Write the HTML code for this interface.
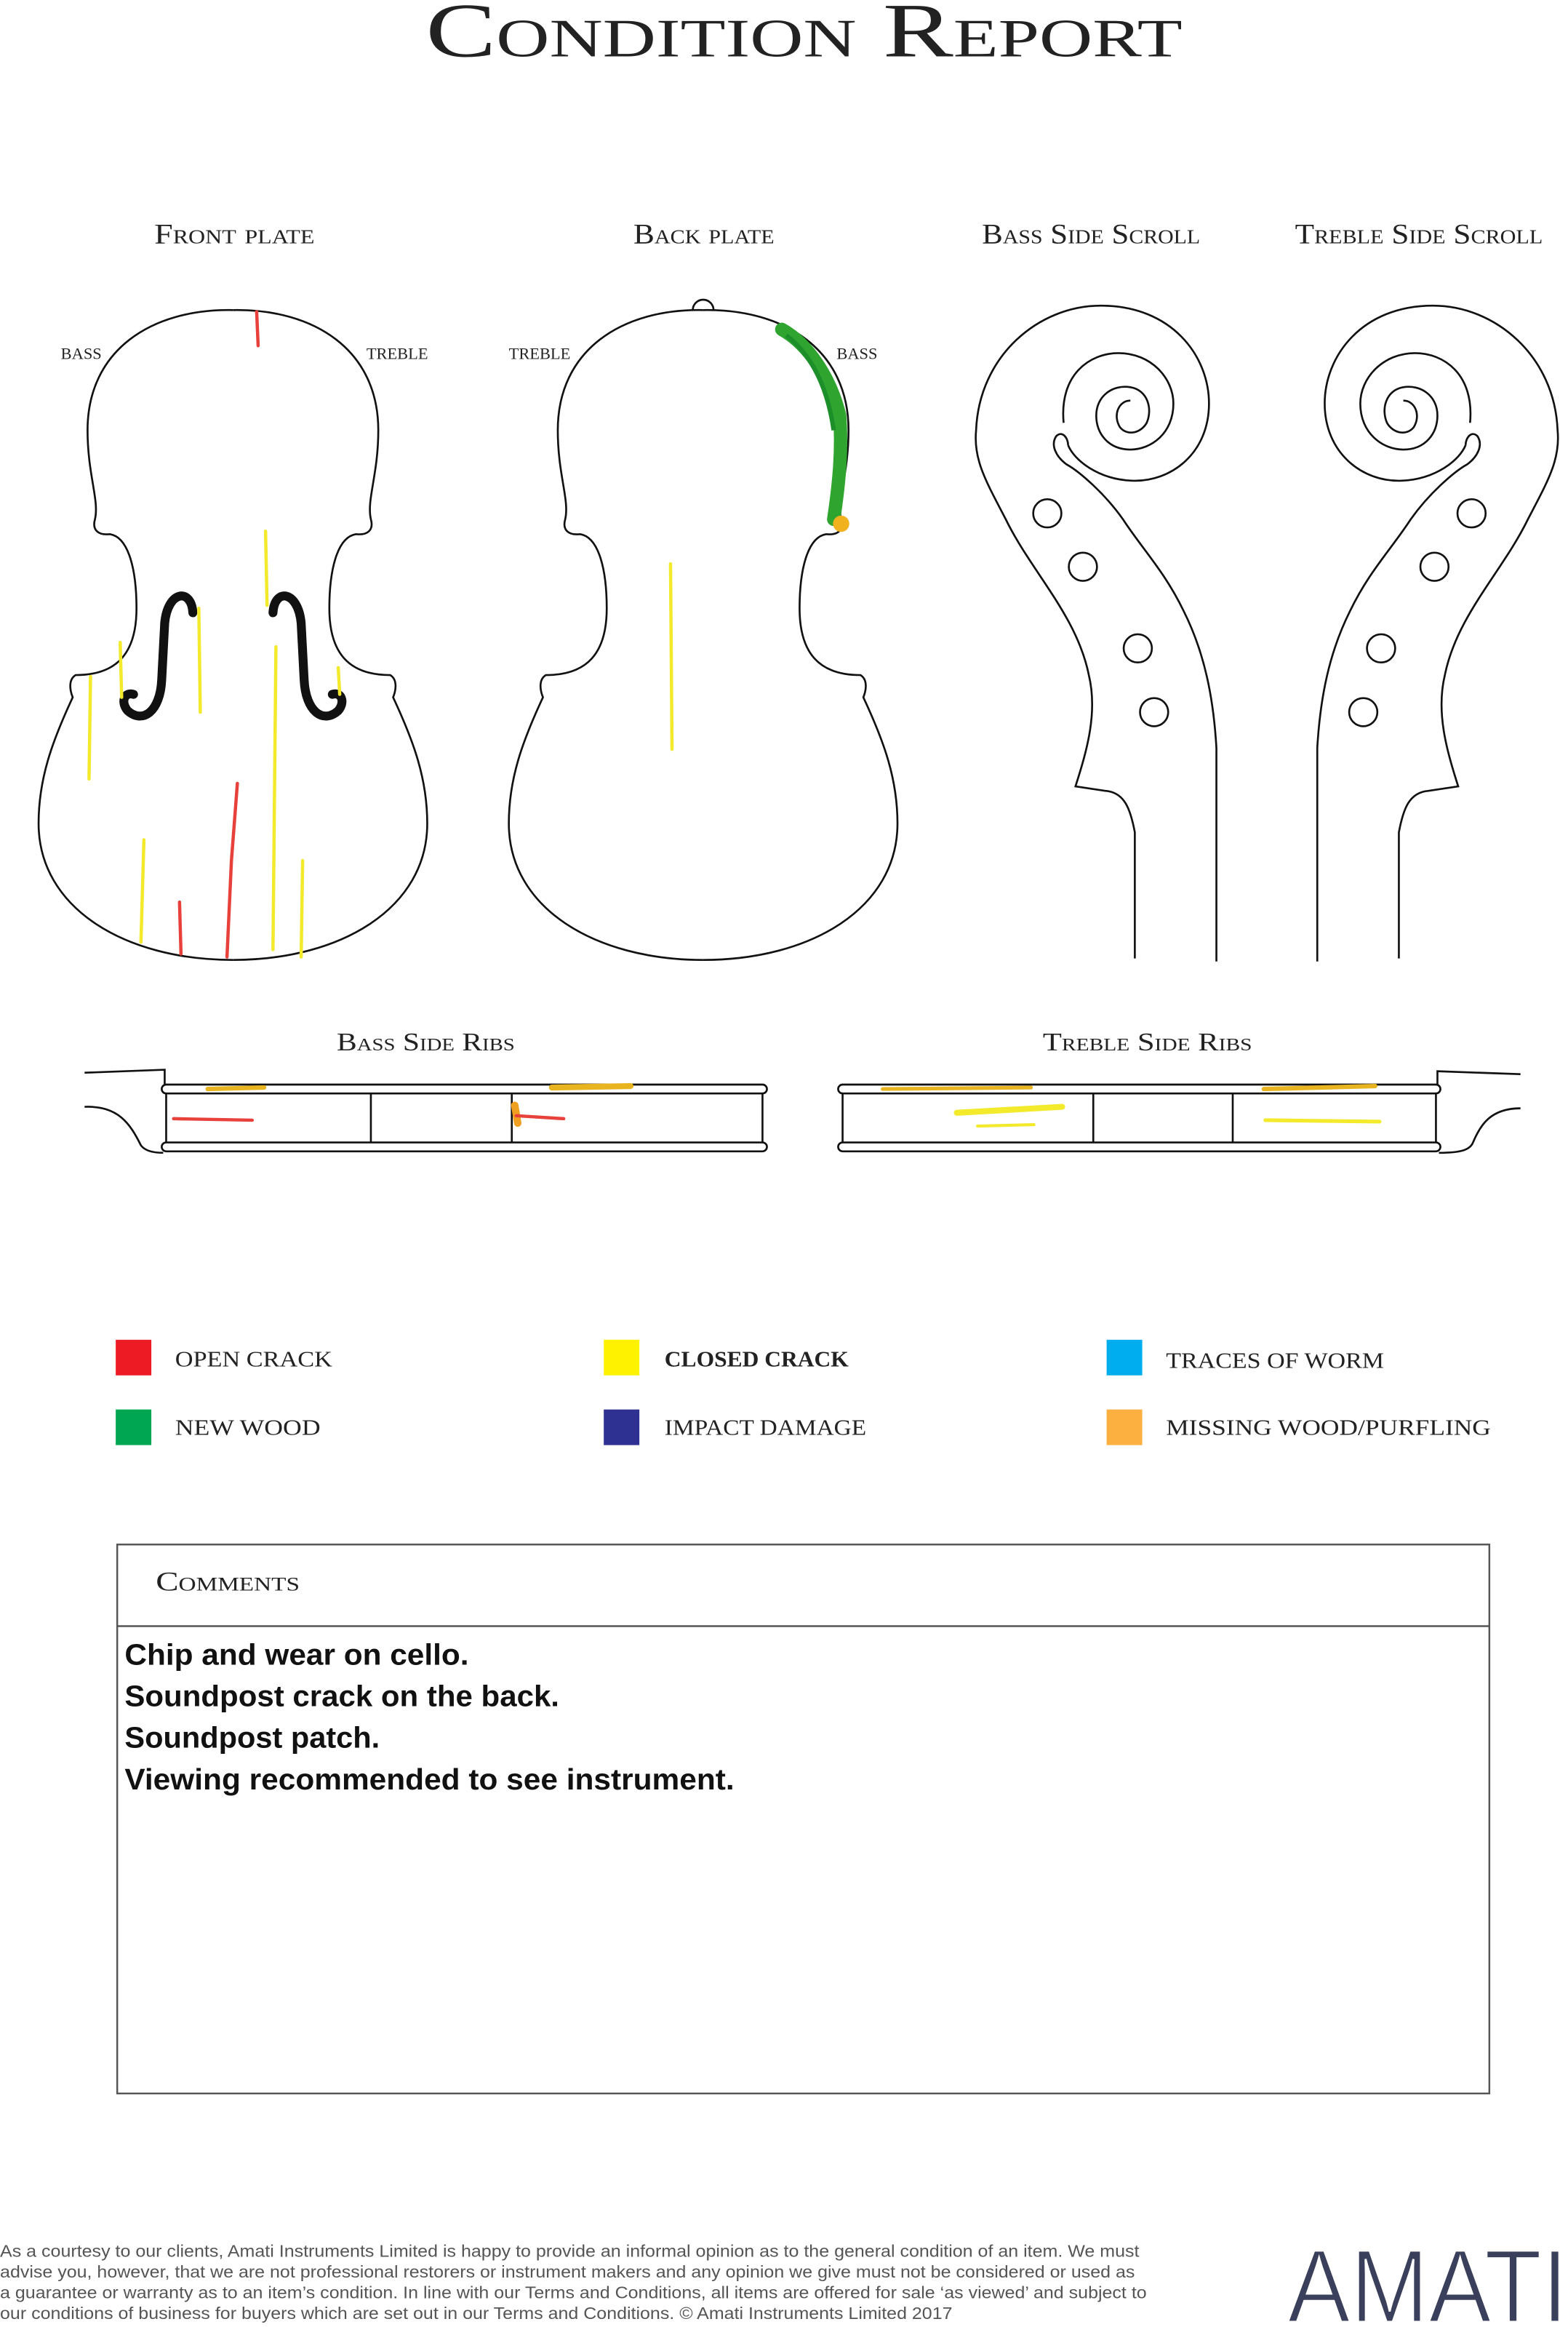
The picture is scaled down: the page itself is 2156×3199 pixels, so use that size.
<!DOCTYPE html>
<html><head><meta charset="utf-8"><style>
html,body{margin:0;padding:0;background:#fff}
svg{display:block}
.sc{font-family:"Liberation Serif",serif;font-variant:small-caps;fill:#222}
.ln{fill:none;stroke:#111;stroke-width:1.3}
</style></head><body>
<svg width="2156" height="3199" viewBox="0 0 1057 1568.4" xmlns="http://www.w3.org/2000/svg">
<text class="sc" x="287" y="38" font-size="52" textLength="510" lengthAdjust="spacingAndGlyphs">Condition Report</text>

<text class="sc" x="104" y="164" font-size="19" textLength="108" lengthAdjust="spacingAndGlyphs">Front plate</text>
<text class="sc" x="427" y="164" font-size="19" textLength="95" lengthAdjust="spacingAndGlyphs">Back plate</text>
<text class="sc" x="662" y="164" font-size="19" textLength="147" lengthAdjust="spacingAndGlyphs">Bass Side Scroll</text>
<text class="sc" x="873" y="164" font-size="19" textLength="167" lengthAdjust="spacingAndGlyphs">Treble Side Scroll</text>

<text class="sc" x="41" y="242" font-size="11">BASS</text>
<text class="sc" x="247" y="242" font-size="11">TREBLE</text>
<text class="sc" x="343" y="242" font-size="11">TREBLE</text>
<text class="sc" x="564" y="242" font-size="11">BASS</text>

<defs>
<path id="half" d="M157,209 C212,208 255,236 255,290 C255,320 247,337 250,350 C252,357 248,361 240,360 C227,362 222,385 222,410 C222,440 235,455 263,455 C268,458 267,465 265,470 C279,500 288,525 288,555 C288,612 230,647 157,647"/>
</defs>
<g class="ln"><use href="#half"/><use href="#half" transform="translate(314,0) scale(-1,1)"/></g>
<g class="ln" transform="translate(317,0)"><use href="#half"/><use href="#half" transform="translate(314,0) scale(-1,1)"/></g>
<path class="ln" d="M467,209 A7,7 0 0 1 481,209"/>

<g fill="none" stroke="#111" stroke-width="6" stroke-linecap="round">
<path d="M130,413 C129,396 113,398 111,420 L109,458 C108,480 96,488 86,479 C81,473 84,466 90,468"/>
<path d="M184,413 C185,396 201,398 203,420 L205,458 C206,480 218,488 228,479 C233,473 230,466 224,468"/>
</g>

<g stroke="#f2ea2a" stroke-width="2.2" fill="none" stroke-linecap="round">
<path d="M179,358 L180,408"/><path d="M134,410 L135,480"/><path d="M186,436 L184,640"/>
<path d="M61,456 L60,525"/><path d="M81,433 L82,470"/><path d="M228,450 L229,468"/>
<path d="M97,566 L95,635"/><path d="M204,580 L203,645"/>
<path d="M452,380 L453,505"/>
</g>
<g stroke="#e8403a" stroke-width="2.2" fill="none" stroke-linecap="round">
<path d="M173,210 L174,233"/><path d="M160,528 L156,580 L153,645"/><path d="M121,608 L122,643"/>
</g>
<path d="M527,222 C545,232 560,255 566,280 C568,305 565,330 562,350" stroke="#2fa52f" stroke-width="9" fill="none" stroke-linecap="round"/>
<path d="M530,226 C548,240 558,262 562,290" stroke="#1d8f2a" stroke-width="3" fill="none"/>
<circle cx="567" cy="353" r="5.5" fill="#f0b21f"/>

<g id="scroll" class="ln">
<path d="M765,646 L765,561 C762,545 758,534 745,533 L725,530 C733,505 740,480 734,455 C726,415 695,385 678,350 C665,325 656,310 658,290 C660,240 700,206 742,206 C790,206 815,240 815,272 C815,305 790,325 763,324 C740,323 724,310 720,300"/>
<path d="M820,648 L820,504 C818,470 812,440 798,412 C785,385 770,370 757,350 C745,333 728,318 719,313 C712,308 708,300 712,294 C716,290 720,295 720,300"/>
<path d="M717,285 C714,252 735,238 754,238 C776,238 791,255 791,272 C791,292 776,303 762,303 C747,303 739,292 739,280 C739,267 750,259 762,261 C774,263 777,276 773,285 C769,292 760,294 755,288 C750,280 754,270 762,270"/>
</g>
<use href="#scroll" transform="translate(1708,0) scale(-1,1)"/>
<g class="ln">
<circle cx="706" cy="346" r="9.5"/><circle cx="730" cy="382" r="9.5"/><circle cx="767" cy="437" r="9.5"/><circle cx="778" cy="480" r="9.5"/>
<circle cx="992" cy="346" r="9.5"/><circle cx="967" cy="382" r="9.5"/><circle cx="931" cy="437" r="9.5"/><circle cx="919" cy="480" r="9.5"/>
</g>

<text class="sc" x="227" y="708" font-size="17" textLength="120" lengthAdjust="spacingAndGlyphs">Bass Side Ribs</text>
<text class="sc" x="703" y="708" font-size="17" textLength="141" lengthAdjust="spacingAndGlyphs">Treble Side Ribs</text>
<g class="ln" stroke-width="1.6">
<rect x="109" y="731" width="408" height="6" rx="3"/><rect x="109" y="770" width="408" height="6" rx="3"/>
<path d="M112,737 L112,770 M514,737 L514,770 M250,737 L250,770 M345,737 L345,770"/>
<path d="M57,723 L111,721 L111,731 M57,746 C80,745 88,758 95,772 C98,776 104,777 110,777"/>
<rect x="565" y="731" width="406" height="6" rx="3"/><rect x="565" y="770" width="406" height="6" rx="3"/>
<path d="M568,737 L568,770 M968,737 L968,770 M737,737 L737,770 M831,737 L831,770"/>
<path d="M1025,724 L969,722 L969,731 M1025,747 C1005,747 998,758 993,770 C991,775 985,777 970,777"/>
</g>
<g stroke-linecap="round" fill="none">
<path d="M140,734 L178,733" stroke="#e8b420" stroke-width="3"/>
<path d="M372,733 L425,732" stroke="#e8b420" stroke-width="4"/>
<path d="M347,745 L349,757" stroke="#f0a020" stroke-width="5"/>
<path d="M117,754 L170,755" stroke="#e8403a" stroke-width="2.2"/>
<path d="M348,752 L380,754" stroke="#e8403a" stroke-width="2.2"/>
<path d="M595,734 L695,733" stroke="#e8b420" stroke-width="2.5"/>
<path d="M852,734 L927,732" stroke="#e8b420" stroke-width="3"/>
<path d="M645,750 L716,746" stroke="#f2ea2a" stroke-width="4"/>
<path d="M659,759 L697,758" stroke="#f2ea2a" stroke-width="2"/>
<path d="M853,755 L930,756" stroke="#f2ea2a" stroke-width="2.5"/>
</g>

<rect x="78" y="903" width="24" height="24" fill="#ed1c24"/>
<rect x="78" y="950" width="24" height="24" fill="#00a651"/>
<rect x="407" y="903" width="24" height="24" fill="#fff200"/>
<rect x="407" y="950" width="24" height="24" fill="#2e3192"/>
<rect x="746" y="903" width="24" height="24" fill="#00aeef"/>
<rect x="746" y="950" width="24" height="24" fill="#fbb040"/>
<g class="sc" font-size="15">
<text x="118" y="921" textLength="106" lengthAdjust="spacingAndGlyphs">OPEN CRACK</text>
<text x="118" y="967" textLength="98" lengthAdjust="spacingAndGlyphs">NEW WOOD</text>
<text x="448" y="921" textLength="124" lengthAdjust="spacingAndGlyphs" font-weight="bold">CLOSED CRACK</text>
<text x="448" y="967" textLength="136" lengthAdjust="spacingAndGlyphs">IMPACT DAMAGE</text>
<text x="786" y="922" textLength="147" lengthAdjust="spacingAndGlyphs">TRACES OF WORM</text>
<text x="786" y="967" textLength="219" lengthAdjust="spacingAndGlyphs">MISSING WOOD/PURFLING</text>
</g>

<rect x="79" y="1041" width="925" height="370" fill="none" stroke="#555" stroke-width="1.2"/>
<line x1="79" y1="1096" x2="1004" y2="1096" stroke="#555" stroke-width="1.2"/>
<text class="sc" x="105" y="1072" font-size="18" textLength="97" lengthAdjust="spacingAndGlyphs">Comments</text>
<g font-family="Liberation Sans, sans-serif" font-size="20" fill="#111" font-weight="bold">
<text x="84" y="1122" textLength="232" lengthAdjust="spacingAndGlyphs">Chip and wear on cello.</text>
<text x="84" y="1150" textLength="293" lengthAdjust="spacingAndGlyphs">Soundpost crack on the back.</text>
<text x="84" y="1178" textLength="172" lengthAdjust="spacingAndGlyphs">Soundpost patch.</text>
<text x="84" y="1206" textLength="411" lengthAdjust="spacingAndGlyphs">Viewing recommended to see instrument.</text>
</g>

<g font-family="Liberation Sans, sans-serif" font-size="11.5" fill="#555">
<text x="0" y="1521" textLength="768" lengthAdjust="spacingAndGlyphs">As a courtesy to our clients, Amati Instruments Limited is happy to provide an informal opinion as to the general condition of an item. We must</text>
<text x="0" y="1535" textLength="765" lengthAdjust="spacingAndGlyphs">advise you, however, that we are not professional restorers or instrument makers and any opinion we give must not be considered or used as</text>
<text x="0" y="1549" textLength="773" lengthAdjust="spacingAndGlyphs">a guarantee or warranty as to an item’s condition. In line with our Terms and Conditions, all items are offered for sale ‘as viewed’ and subject to</text>
<text x="0" y="1563" textLength="642" lengthAdjust="spacingAndGlyphs">our conditions of business for buyers which are set out in our Terms and Conditions. © Amati Instruments Limited 2017</text>
</g>
<text x="868" y="1565" font-family="Liberation Sans, sans-serif" font-size="70" fill="#3a3f5c" stroke="#fff" stroke-width="1.5" paint-order="fill" textLength="189" lengthAdjust="spacingAndGlyphs">AMATI</text>
</svg>
</body></html>
